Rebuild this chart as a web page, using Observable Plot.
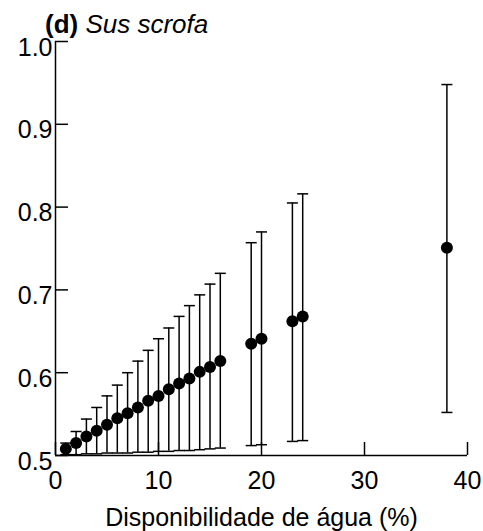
<!DOCTYPE html>
<html>
<head>
<meta charset="utf-8">
<script src="https://cdn.jsdelivr.net/npm/d3@7"></script>
<script src="https://cdn.jsdelivr.net/npm/@observablehq/plot@0.6"></script>
<style>
  html, body { margin: 0; padding: 0; background: #fff; }
  #wrap { position: relative; width: 483px; height: 531px; font-family: "Liberation Sans", Arial, sans-serif; }
  #title { position: absolute; left: 45px; top: 9px; font-size: 26px; line-height: 30px; color: #000; white-space: nowrap; }
  svg { display: block; }
</style>
</head>
<body>
<div id="wrap">
  <div id="title"><b>(d)</b> <i>Sus scrofa</i></div>
</div>
<script>
const xs    = [1, 2, 3, 4, 5, 6, 7, 8, 9, 10, 11, 12, 13, 14, 15, 16, 19, 20, 23, 24, 38];
const mean  = [0.508, 0.515, 0.523, 0.530, 0.537, 0.545, 0.551, 0.558, 0.566, 0.572, 0.580, 0.587, 0.593, 0.601, 0.607, 0.614, 0.635, 0.641, 0.662, 0.668, 0.751];
const upper = [0.515, 0.529, 0.544, 0.558, 0.572, 0.585, 0.600, 0.614, 0.627, 0.641, 0.654, 0.668, 0.681, 0.694, 0.707, 0.720, 0.757, 0.770, 0.805, 0.816, 0.948];
const lower = [0.501, 0.501, 0.502, 0.502, 0.503, 0.503, 0.503, 0.504, 0.504, 0.505, 0.505, 0.506, 0.506, 0.507, 0.508, 0.509, 0.512, 0.513, 0.517, 0.518, 0.552];
const xTicks = [0, 10, 20, 30, 40];
const yTicks = [0.5, 0.6, 0.7, 0.8, 0.9, 1.0];
const xLabel = "Disponibilidade de água (%)";

const data = xs.map((x, i) => ({x, m: mean[i], lo: lower[i], hi: upper[i]}));

const cap = { draw(ctx) { ctx.moveTo(-5.5, 0); ctx.lineTo(5.5, 0); } };

const W = 483, H = 531, mL = 55, mR = 16, mT = 41, mB = 76;
const plotH = H - mT - mB, plotW = W - mL - mR;

const chart = Plot.plot({
  width: W, height: H,
  marginLeft: mL, marginRight: mR, marginTop: mT, marginBottom: mB,
  style: { fontFamily: "Liberation Sans, Arial, sans-serif", fontSize: "25px", color: "#000", background: "#fff" },
  x: { domain: [0, 40] },
  y: { domain: [0.5, 1.0] },
  marks: [
    Plot.axisX(xTicks, { tickSize: 0, tickPadding: 16, fontSize: 25, label: xLabel, labelAnchor: "center", labelOffset: 70, labelArrow: "none" }),
    Plot.axisY(yTicks, { tickSize: 0, tickPadding: 3, fontSize: 25, tickFormat: d3.format(".1f"), dy: 6, label: null }),
    Plot.tickX(xTicks, { x: d => d, insetTop: plotH - 13, stroke: "#000", strokeWidth: 1.5 }),
    Plot.tickY(yTicks, { y: d => d, insetRight: plotW - 13, stroke: "#000", strokeWidth: 1.5 }),
    Plot.ruleX([0], { stroke: "#000", strokeWidth: 1.5 }),
    Plot.ruleY([0.5], { stroke: "#000", strokeWidth: 1.5 }),
    Plot.ruleX(data, { x: "x", y1: "lo", y2: "hi", stroke: "#000", strokeWidth: 1.5 }),
    Plot.dot(data, { x: "x", y: "hi", symbol: cap, r: 5, stroke: "#000", strokeWidth: 1.5, fill: "none" }),
    Plot.dot(data, { x: "x", y: "lo", symbol: cap, r: 5, stroke: "#000", strokeWidth: 1.5, fill: "none" }),
    Plot.dot(data, { x: "x", y: "m", r: 6, fill: "#000", stroke: "none" })
  ]
});
document.getElementById("wrap").prepend(chart);
</script>
</body>
</html>
